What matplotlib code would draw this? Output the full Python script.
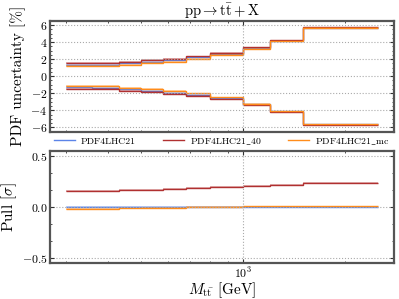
import numpy as np
import matplotlib
matplotlib.use("Agg")
import matplotlib.pyplot as plt
from matplotlib.ticker import AutoMinorLocator, NullFormatter
from matplotlib.lines import Line2D

plt.rcParams.update({
    "font.family": "serif",
    "font.serif": ["cmr10", "DejaVu Serif"],
    "mathtext.fontset": "cm",
    "axes.formatter.use_mathtext": True,
    "axes.unicode_minus": False,
    "xtick.direction": "in",
    "ytick.direction": "in",
    "xtick.top": True,
    "ytick.right": True,
    "xtick.minor.visible": True,
    "ytick.minor.visible": True,
    "xtick.major.size": 3,
    "ytick.major.size": 3,
    "xtick.minor.size": 1.5,
    "ytick.minor.size": 1.5,
    "xtick.major.pad": 2,
    "ytick.major.pad": 2,
    "axes.linewidth": 1.6,
    "axes.edgecolor": "#555555",
})

# Bin edges [GeV]
edges = [300, 360, 430, 500, 580, 680, 800, 1000, 1200, 1500, 2500]

labels = ["PDF4LHC21", r"PDF4LHC21$\_$40", r"PDF4LHC21$\_$mc"]
colors = ["#5b84e8", "#b03030", "#ff8c1a"]

# PDF uncertainty [%] (upper / lower)
up_hess = [1.30, 1.35, 1.50, 1.70, 1.90, 2.20, 2.60, 3.30, 4.15, 5.70]
up_40   = [1.50, 1.55, 1.70, 1.85, 2.05, 2.32, 2.75, 3.40, 4.20, 5.72]
up_mc   = [1.15, 1.20, 1.35, 1.52, 1.72, 2.02, 2.48, 3.20, 4.10, 5.70]
dn_hess = [-1.30, -1.38, -1.52, -1.72, -1.92, -2.18, -2.58, -3.30, -4.12, -5.65]
dn_40   = [-1.45, -1.55, -1.70, -1.88, -2.08, -2.35, -2.72, -3.40, -4.20, -5.68]
dn_mc   = [-1.12, -1.20, -1.35, -1.55, -1.75, -2.02, -2.48, -3.22, -4.10, -5.65]
band_w  = [0.12, 0.12, 0.12, 0.12, 0.10, 0.10, 0.08, 0.06, 0.05, 0.05]

# Pull [sigma]
pull_hess = [0.0, 0.0, 0.0, 0.0, 0.0, 0.0, 0.0, 0.0, 0.0, 0.0]
pull_40   = [0.155, 0.158, 0.163, 0.168, 0.175, 0.185, 0.195, 0.205, 0.215, 0.235]
pull_mc   = [-0.022, -0.020, -0.016, -0.012, -0.008, -0.004, -0.001, 0.002, 0.004, 0.005]
pull_w    = [0.006, 0.006, 0.006, 0.006, 0.006, 0.006, 0.006, 0.006, 0.006, 0.006]

ups = [up_hess, up_40, up_mc]
dns = [dn_hess, dn_40, dn_mc]
pulls = [pull_hess, pull_40, pull_mc]

fig = plt.figure(figsize=(3.99, 2.99), dpi=100)
ax1 = fig.add_axes([0.1253, 0.5595, 0.8617, 0.3713])
ax2 = fig.add_axes([0.1253, 0.1211, 0.8617, 0.3752], sharex=ax1)

w = np.array(band_w)
for up, dn, c in zip(ups, dns, colors):
    up = np.array(up); dn = np.array(dn)
    ax1.stairs(up + w, edges, baseline=up - w, fill=True, color=c, alpha=0.35, lw=0)
    ax1.stairs(dn + w, edges, baseline=dn - w, fill=True, color=c, alpha=0.35, lw=0)
    ax1.stairs(up, edges, baseline=None, color=c, lw=1.0)
    ax1.stairs(dn, edges, baseline=None, color=c, lw=1.0)

pw = np.array(pull_w)
for p, c in zip(pulls, colors):
    p = np.array(p)
    ax2.stairs(p + pw, edges, baseline=p - pw, fill=True, color=c, alpha=0.35, lw=0)
    ax2.stairs(p, edges, baseline=None, color=c, lw=1.0)

ax1.set_xscale("log")
ax1.set_xlim(270, 2780)
ax1.set_ylim(-6.5, 6.5)
ax1.set_yticks([-6, -4, -2, 0, 2, 4, 6])
ax1.yaxis.set_minor_locator(AutoMinorLocator(4))
ax2.set_ylim(-0.55, 0.55)
ax2.set_yticks([-0.5, 0.0, 0.5])
ax2.yaxis.set_minor_locator(AutoMinorLocator(3))

for ax in (ax1, ax2):
    ax.grid(True, which="major", ls=":", color="#aaaaaa", lw=0.8)
    ax.tick_params(labelsize=8.5, colors="#333333", labelcolor="black")
    ax.tick_params(which="minor", colors="#333333")
ax1.tick_params(labelbottom=False)
ax1.xaxis.set_minor_formatter(NullFormatter())
ax2.xaxis.set_minor_formatter(NullFormatter())

ax1.set_title(r"$\mathrm{pp} \rightarrow \mathrm{t\bar{t}} + \mathrm{X}$", fontsize=10.5, pad=3)
ax1.set_ylabel("PDF uncertainty [%]", fontsize=11, labelpad=3)
ax2.set_ylabel(r"Pull [$\sigma$]", fontsize=11, labelpad=2)
ax2.set_xlabel(r"$M_{\mathrm{t\bar{t}}}$ [GeV]", fontsize=11, labelpad=0)

hl = [Line2D([], [], color=c, lw=1.0) for c in colors]
fig.legend(hl, labels, ncol=3, loc="lower left",
           bbox_to_anchor=(0.1253, 0.497, 0.8617, 0.05), mode="expand",
           frameon=False, fontsize=7, handlelength=2.2, handletextpad=0.6,
           borderaxespad=0)

fig.savefig("out.png", dpi=100)
